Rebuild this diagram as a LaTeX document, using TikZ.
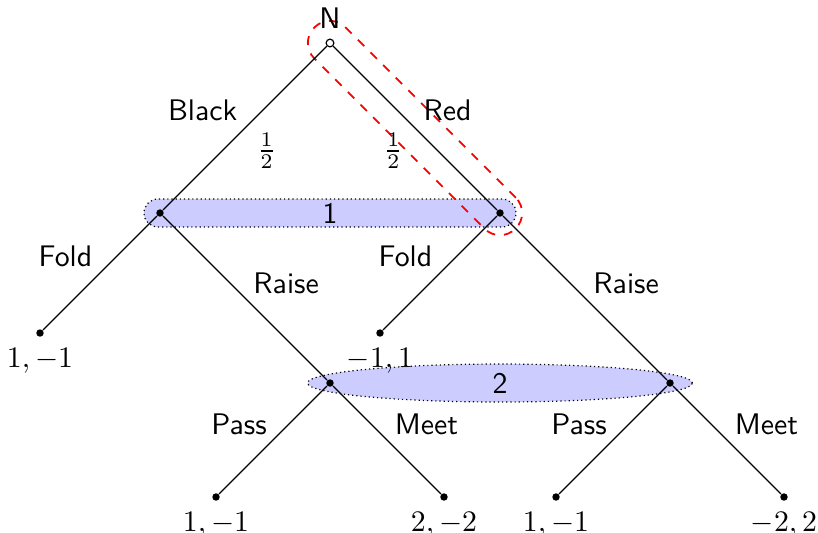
\documentclass[tikz,border=0pt]{standalone}
\usetikzlibrary{positioning, calc, backgrounds, shapes.geometric}

\begin{document}
\begin{tikzpicture}[
  x=1.18mm, y=-1.18mm,
  chance/.style={circle, draw, fill=white, inner sep=0pt, minimum size=2.6pt, on grid},
  decision/.style={circle, fill, inner sep=0pt, minimum size=2.5pt, on grid},
  outcome/.style={decision, label={below:#1}},
  move/.style={font=\sffamily},
  infoset/.style={draw, densely dotted, fill=blue!20, inner sep=0pt, font=\sffamily},
  chanceset/.style={draw=red, dashed, semithick, rounded corners=2.55mm},
]
  \useasboundingbox (0,0) rectangle (81.8,53.2);

  % tree
  \node[chance, label={[move]above:N}] (root) at (33,4.3) {};
  \node[decision, below left=20.06mm and 20.06mm of root] (p1l) {};
  \node[decision, below right=20.06mm and 20.06mm of root] (p1r) {};
  \node[outcome={$1,-1$}, below left=14.16mm and 14.16mm of p1l] (l1) {};
  \node[decision, below right=20.06mm and 20.06mm of p1l] (p2l) {};
  \node[outcome={$-1,1$}, below left=14.16mm and 14.16mm of p1r] (l2) {};
  \node[decision, below right=20.06mm and 20.06mm of p1r] (p2r) {};
  \node[outcome={$1,-1$}, below left=13.45mm and 13.45mm of p2l] (l3) {};
  \node[outcome={$2,-2$}, below right=13.45mm and 13.45mm of p2l] (l4) {};
  \node[outcome={$1,-1$}, below left=13.45mm and 13.45mm of p2r] (l5) {};
  \node[outcome={$-2,2$}, below right=13.45mm and 13.45mm of p2r] (l6) {};

  \draw (root) -- node[move, pos=.39, left=1.8mm] {Black} node[pos=.64, right=2.9mm] {$\frac12$} (p1l);
  \draw (root) -- node[move, pos=.39, right=1.9mm] {Red} node[pos=.64, left=2.9mm] {$\frac12$} (p1r);
  \draw (p1l) -- node[move, pos=.35, left=1.7mm] {Fold} (l1);
  \draw (p1l) -- node[move, pos=.41, right=1.5mm] {Raise} (p2l);
  \draw (p1r) -- node[move, pos=.35, left=1.7mm] {Fold} (l2);
  \draw (p1r) -- node[move, pos=.41, right=1.5mm] {Raise} (p2r);
  \draw (p2l) -- node[move, pos=.35, left=1.4mm] {Pass} (l3);
  \draw (p2l) -- node[move, pos=.35, right=1.6mm] {Meet} (l4);
  \draw (p2r) -- node[move, pos=.35, left=1.4mm] {Pass} (l5);
  \draw (p2r) -- node[move, pos=.35, right=1.6mm] {Meet} (l6);

  % information sets
  \begin{pgfonlayer}{background}
    \node[infoset, rectangle, rounded corners=1.65mm, minimum width=43.9mm, minimum height=3.3mm] (info1) at ($(p1l)!.5!(p1r)$) {1};
    \node[infoset, ellipse, minimum width=45.4mm, minimum height=4.48mm] (info2) at ($(p2l)!.5!(p2r)$) {2};
    \node[chanceset, rectangle, rotate=-45, minimum width=33.56mm, minimum height=5.19mm] (seen) at ($(root)!.5!(p1r)$) {};
  \end{pgfonlayer}
\end{tikzpicture}
\end{document}
